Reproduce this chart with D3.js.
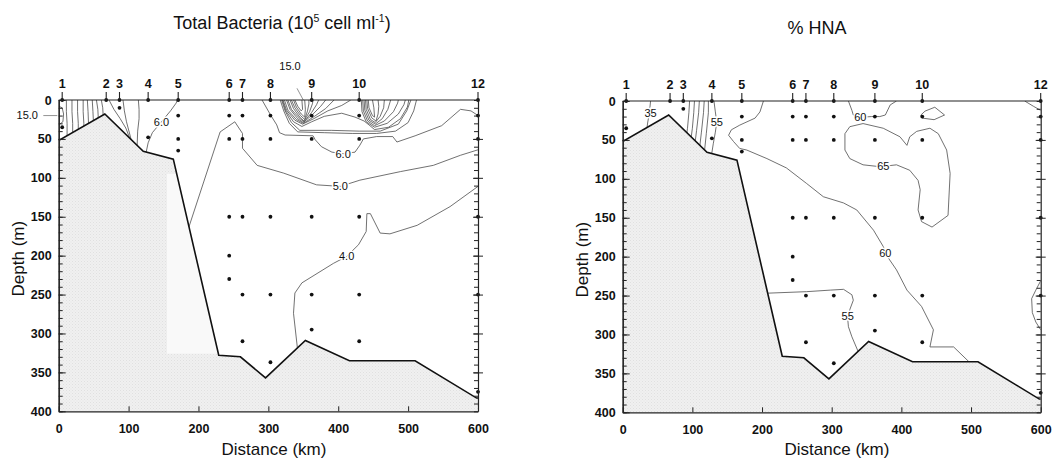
<!DOCTYPE html>
<html>
<head>
<meta charset="utf-8">
<script src="https://cdn.jsdelivr.net/npm/d3@7"></script>
<style>
  body { margin: 0; background: #fff; }
  svg { display: block; }
  text { font-family: "Liberation Sans", Arial, Helvetica, sans-serif; fill: #111; }
</style>
</head>
<body>
<svg id="chart" width="1061" height="459"></svg>
<script>
// ---- Stations along the transect ----
const stationNames = ["1", "2", "3", "4", "5", "6", "7", "8", "9", "10", "12"];
const stationKm    = [5, 68, 87, 128, 171, 244, 263, 303, 362, 430, 600];
const sampleDepths = [
  [0, 35], [0], [0, 10], [0, 48], [0, 20, 50, 65],
  [0, 20, 50, 150, 200, 230], [0, 20, 50, 150, 250, 310], [0, 20, 50, 150, 250, 337],
  [0, 20, 50, 150, 250, 295], [0, 20, 50, 150, 250, 310], [0, 20, 50, 150, 250, 375]
];

// ---- Bottom profile (km, m) ----
const bottomKm    = [0, 2, 66, 121, 164, 229, 260, 296, 353, 416, 510, 598, 600];
const bottomDepth = [51, 51, 18, 66, 76, 328, 330, 357, 309, 335, 335, 383, 383];

// ---- Axis ticks ----
const depthTicks    = [0, 50, 100, 150, 200, 250, 300, 350, 400];
const distanceTicks = [0, 100, 200, 300, 400, 500, 600];

// ---- Total bacteria isolines (km, depth m) ----
const tbShelfLines = [
  [[0, 8], [5, 10], [7, 18], [6, 28], [0, 32]],
  [[11, 0], [11, 15], [12, 30], [12, 50]],
  [[19, 0], [19, 15], [20, 30], [20, 48]],
  [[27, 0], [27, 15], [28, 30], [28, 44]],
  [[35, 0], [35, 15], [36, 30], [36, 42]],
  [[41, 0], [42, 15], [43, 38]],
  [[48, 0], [49, 15], [50, 34]],
  [[54, 0], [56, 12], [57, 30]],
  [[61, 0], [63, 10], [64, 26]],
  [[72, 0], [79, 12], [88, 24], [96, 36], [103, 52]],
  [[92, 0], [94, 14], [97, 28], [102, 45], [105, 56]],
  [[114, 0], [115, 12], [115, 24], [113, 40], [112, 64]]
];
const tb60Shelf = [[124, 72], [128, 55], [134, 42], [147, 28], [160, 14], [168, 4], [170, 0]];
const tb50 = [[182, 175], [231, 41], [252, 28], [263, 43], [263, 62], [284, 84], [322, 94],
  [369, 109], [403, 111], [431, 103], [489, 92], [536, 84], [575, 71], [600, 64]];
const tb40 = [[342, 322], [336, 274], [338, 248], [348, 235], [393, 210], [412, 201], [429, 186],
  [440, 169], [441, 146], [446, 146], [460, 171], [474, 172], [513, 161], [560, 137], [600, 111]];
const tb60Offshore = [[291, 0], [303, 19], [312, 32], [316, 42], [324, 45], [364, 46], [367, 51],
  [376, 60], [391, 67], [407, 69], [424, 67], [431, 58], [436, 50], [455, 47], [478, 47],
  [484, 54], [510, 46], [548, 33], [575, 12], [590, 14], [600, 20]];
// isolines enclosing the two surface maxima (stations 8-9 and 10)
const tbSurfaceLines = [
  [[317, 0], [322, 14], [330, 30], [342, 41], [380, 42], [420, 43], [455, 43], [482, 40], [500, 29], [508, 14], [512, 0]],
  [[319, 0], [324, 14], [333, 29], [345, 39], [390, 39], [430, 40], [460, 40], [486, 31], [498, 14], [504, 0]],
  [[320, 0], [325, 14], [336, 28], [348, 34], [362, 28], [380, 21], [405, 17], [424, 22], [437, 27], [444, 32],
   [452, 38], [472, 35], [489, 24], [499, 9], [501, 0]],
  [[321, 0], [326, 13], [338, 26], [349, 31], [365, 24], [385, 14], [405, 7], [418, 0]],
  [[323, 0], [328, 13], [340, 25], [350, 30], [366, 21], [382, 11], [394, 0]],
  [[326, 0], [331, 12], [342, 24], [350, 29], [364, 18], [375, 8], [382, 0]],
  [[328, 0], [333, 12], [344, 23], [351, 28], [362, 16], [369, 6], [372, 0]],
  [[331, 0], [336, 11], [345, 22], [351, 27], [359, 15], [363, 5], [364, 0]],
  [[333, 0], [338, 10], [346, 20], [352, 25], [356, 14], [358, 5], [358, 0]],
  [[336, 0], [340, 9], [347, 18], [352, 22], [353, 12], [352, 0]],
  [[338, 0], [342, 8], [347, 14], [349, 12], [348, 0]],
  [[433, 0], [434, 15], [440, 28], [452, 35], [470, 30], [486, 18], [494, 6], [496, 0]],
  [[435, 0], [436, 14], [442, 27], [452, 33], [466, 27], [479, 15], [485, 4], [486, 0]],
  [[437, 0], [438, 13], [444, 26], [453, 31], [463, 24], [471, 12], [475, 0]],
  [[439, 0], [440, 12], [446, 25], [453, 29], [460, 21], [465, 10], [466, 0]],
  [[441, 0], [442, 11], [448, 23], [454, 27], [457, 18], [458, 8], [457, 0]],
  [[443, 0], [444, 10], [449, 20], [452, 22], [451, 10], [449, 0]]
];
const tbLeaders = [[[341, -15], [350, 0]], [[-22, 20], [-2, 20]]];
const tbLabels = [
  {text: "6.0", km: 147, depth: 28}, {text: "6.0", km: 407, depth: 69},
  {text: "5.0", km: 403, depth: 111}, {text: "4.0", km: 412, depth: 201}
];
const tbOuterLabels = [{text: "15.0", km: 331, depth: -44}, {text: "15.0", km: -45, depth: 20}];

// ---- %HNA isolines (km, depth m) ----
const hna35 = [[40, 0], [39, 9], [38, 17], [36, 27], [34, 40]];
const hnaShelfLines = [
  [[96, 0], [95, 15], [93, 35], [90, 55]],
  [[103, 0], [102, 15], [100, 35], [97, 56]],
  [[110, 0], [109, 15], [106, 38], [103, 60]],
  [[117, 0], [116, 15], [113, 40], [110, 63]],
  [[123, 0], [123, 15], [120, 42], [117, 68]]
];
const hna55Shelf = [[131, 0], [133, 14], [135, 27], [133, 40], [130, 55], [127, 72]];
const hna60 = [[202, 0], [197, 14], [190, 22], [168, 31], [156, 37], [152, 44], [159, 52], [168, 61],
  [178, 63], [207, 74], [235, 86], [264, 106], [288, 123], [317, 131], [336, 140], [360, 166],
  [374, 187], [380, 200], [393, 217], [408, 243], [429, 264], [446, 294], [441, 316], [475, 316], [505, 342]];
const hna60Surface = [[324, 0], [329, 12], [331, 18], [341, 21], [357, 20], [369, 20], [377, 18], [384, 5], [393, 0]];
const hna65 = [[319, 42], [326, 33], [345, 29], [374, 35], [398, 46], [408, 57], [412, 46], [422, 39],
  [441, 35], [453, 42], [465, 63], [470, 93], [467, 147], [444, 162], [429, 155], [424, 140],
  [427, 114], [424, 102], [412, 89], [393, 82], [374, 84], [365, 84], [345, 82], [326, 74],
  [319, 63], [319, 42]];
const hnaLoop10 = [[428, 18], [434, 13], [448, 8], [462, 18], [447, 24], [430, 22], [428, 18]];
const hna55Deep = [[206, 247], [264, 245], [298, 243], [317, 242], [329, 249], [331, 256], [326, 268],
  [323, 280], [324, 290], [329, 303], [338, 322]];
const hnaEdge = [[600, 231], [593, 243], [587, 254], [588, 272], [593, 284], [600, 294]];
const hnaCorner = [[577, 0], [590, 7], [600, 12]];
const hnaLabels = [
  {text: "35", km: 40, depth: 16}, {text: "55", km: 135, depth: 27},
  {text: "60", km: 341, depth: 21}, {text: "65", km: 374, depth: 84},
  {text: "60", km: 377, depth: 195}, {text: "55", km: 323, depth: 277}
];

const svg = d3.select("#chart");

// stippled sea-floor texture
const defs = svg.append("defs");
const pat = defs.append("pattern").attr("id", "stipple").attr("patternUnits", "userSpaceOnUse")
  .attr("width", 3).attr("height", 3);
pat.append("rect").attr("width", 3).attr("height", 3).attr("fill", "#f0f0f0");
pat.append("rect").attr("width", 1).attr("height", 1).attr("fill", "#e0e0e0");
pat.append("rect").attr("x", 1.5).attr("y", 1.5).attr("width", 1).attr("height", 1).attr("fill", "#e7e7e7");

function drawPanel(cfg) {
  const x = d3.scaleLinear().domain([0, 600]).range([cfg.left, cfg.right]);
  const y = d3.scaleLinear().domain([0, 400]).range([cfg.top, cfg.bottom]);
  const g = svg.append("g");
  const line = d3.line().x(d => x(d[0])).y(d => y(d[1]));

  const clipId = "clip-" + cfg.id;
  g.append("clipPath").attr("id", clipId).append("rect")
    .attr("x", x(0)).attr("y", y(0)).attr("width", x(600) - x(0)).attr("height", y(400) - y(0));

  // isolines
  g.append("g").attr("clip-path", `url(#${clipId})`)
    .selectAll("path").data(cfg.lines).join("path")
    .attr("d", line).attr("fill", "none")
    .attr("stroke", "#4d4d4d").attr("stroke-width", 0.8);

  // sea floor
  const profile = bottomKm.map((k, i) => [k, bottomDepth[i]]);
  const seabed = profile.concat([[600, 400], [0, 400]]);
  g.append("path").attr("d", line(seabed) + "Z").attr("fill", "url(#stipple)");
  if (cfg.lightPatch) {
    const sbClip = "sb-" + cfg.id;
    g.append("clipPath").attr("id", sbClip).append("path").attr("d", line(seabed) + "Z");
    g.append("rect").attr("clip-path", `url(#${sbClip})`)
      .attr("x", x(cfg.lightPatch[0])).attr("y", y(cfg.lightPatch[2]))
      .attr("width", x(cfg.lightPatch[1]) - x(cfg.lightPatch[0]))
      .attr("height", y(cfg.lightPatch[3]) - y(cfg.lightPatch[2]))
      .attr("fill", "#f9f9f9");
  }
  g.append("path").datum(profile).attr("d", line)
    .attr("fill", "none").attr("stroke", "#111").attr("stroke-width", 1.6);

  // leader lines outside the frame
  g.append("g").selectAll("path").data(cfg.leaders || []).join("path")
    .attr("d", line).attr("fill", "none").attr("stroke", "#777").attr("stroke-width", 0.8);

  // isoline labels
  g.append("g").selectAll("text").data(cfg.labels).join("text")
    .attr("x", d => x(d.km)).attr("y", d => y(d.depth))
    .attr("text-anchor", "middle").attr("dy", "0.35em")
    .attr("font-size", 11)
    .attr("stroke", "#fff").attr("stroke-width", 3).attr("paint-order", "stroke")
    .text(d => d.text);
  g.append("g").selectAll("text").data(cfg.outerLabels || []).join("text")
    .attr("x", d => x(d.km)).attr("y", d => y(d.depth))
    .attr("text-anchor", "middle").attr("dy", "0.35em")
    .attr("font-size", 11).text(d => d.text);

  // sampling points
  const samples = stationKm.flatMap((k, i) => sampleDepths[i].map(dp => [k, dp]));
  g.append("g").selectAll("circle").data(samples).join("circle")
    .attr("cx", d => x(d[0])).attr("cy", d => y(d[1])).attr("r", 1.9).attr("fill", "#111");

  // axes
  const axisStyle = sel => {
    sel.selectAll(".domain").attr("stroke", "#222").attr("stroke-width", 1.2);
    sel.selectAll(".tick line").attr("stroke", "#222").attr("stroke-width", 1);
    sel.selectAll(".tick text").attr("font-size", 12.5).attr("font-weight", "bold")
      .attr("font-family", "Liberation Sans, Arial, sans-serif").attr("fill", "#111");
  };
  g.append("g").attr("transform", `translate(${x(0)},0)`)
    .call(d3.axisLeft(y).ticks(40).tickFormat("").tickSizeInner(-4).tickSizeOuter(0)).call(axisStyle);
  g.append("g").attr("transform", `translate(${x(0)},0)`)
    .call(d3.axisLeft(y).tickValues(depthTicks).tickSizeInner(-7).tickSizeOuter(0).tickPadding(7)).call(axisStyle);
  g.append("g").attr("transform", `translate(${x(600)},0)`)
    .call(d3.axisRight(y).ticks(40).tickFormat("").tickSizeInner(-4).tickSizeOuter(0)).call(axisStyle);
  g.append("g").attr("transform", `translate(${x(600) - 5},0)`)
    .call(d3.axisRight(y).tickValues(depthTicks.slice(1, -1)).tickFormat("").tickSizeInner(10).tickSizeOuter(0))
    .call(axisStyle).select(".domain").remove();
  g.append("g").attr("transform", `translate(0,${y(400)})`)
    .call(d3.axisBottom(x).tickValues(distanceTicks).tickSizeInner(-5).tickSizeOuter(0).tickPadding(13)).call(axisStyle);
  g.append("line").attr("x1", x(0)).attr("x2", x(600)).attr("y1", y(0)).attr("y2", y(0))
    .attr("stroke", "#222").attr("stroke-width", 1.2);

  // station markers
  const st = g.append("g").selectAll("g").data(stationKm).join("g")
    .attr("transform", d => `translate(${x(d)},${y(0)})`);
  st.append("line").attr("y1", -8).attr("y2", 0).attr("stroke", "#222").attr("stroke-width", 1.1);
  st.append("text").attr("y", -12).attr("text-anchor", "middle")
    .attr("font-size", 12.5).attr("font-weight", "bold")
    .text((d, i) => stationNames[i]);

  // axis titles
  g.append("text").attr("x", cfg.xTitleX).attr("y", 455).attr("text-anchor", "middle")
    .attr("font-size", 17).text("Distance (km)");
  g.append("text").attr("transform", `translate(${cfg.yTitleX},${(y(0) + y(400)) / 2 + 3}) rotate(-90)`)
    .attr("text-anchor", "middle").attr("font-size", 17).text("Depth (m)");
}

drawPanel({
  id: "tb", left: 58.7, right: 478, top: 100, bottom: 411.3,
  lines: tbShelfLines.concat([tb60Shelf, tb50, tb40, tb60Offshore], tbSurfaceLines),
  leaders: tbLeaders, labels: tbLabels, outerLabels: tbOuterLabels,
  lightPatch: [155, 240, 95, 326],
  xTitleX: 274, yTitleX: 24
});

drawPanel({
  id: "hna", left: 622.7, right: 1040.7, top: 101, bottom: 412.3,
  lines: [hna35].concat(hnaShelfLines, [hna55Shelf, hna60, hna60Surface, hna65, hnaLoop10, hna55Deep, hnaEdge, hnaCorner]),
  labels: hnaLabels,
  xTitleX: 837, yTitleX: 588
});

// panel titles
const t1 = svg.append("text").attr("x", 282).attr("y", 29).attr("text-anchor", "middle").attr("font-size", 18);
t1.append("tspan").text("Total Bacteria (10");
t1.append("tspan").attr("font-size", 10.5).attr("dy", -7).text("5");
t1.append("tspan").attr("dy", 7).text(" cell ml");
t1.append("tspan").attr("font-size", 10.5).attr("dy", -7).text("-1");
t1.append("tspan").attr("dy", 7).text(")");

svg.append("text").attr("x", 817).attr("y", 34).attr("text-anchor", "middle").attr("font-size", 18).text("% HNA");
</script>
</body>
</html>
